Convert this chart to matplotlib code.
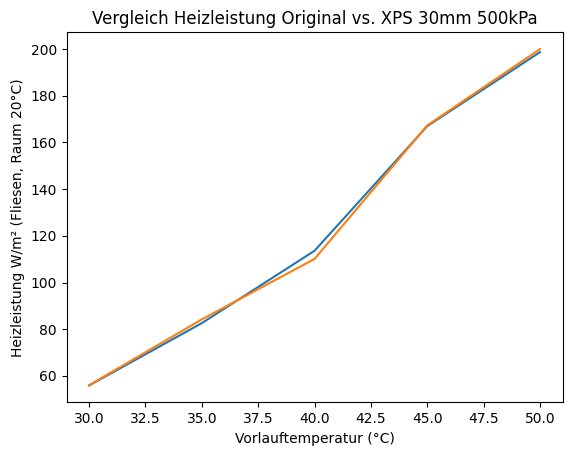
import matplotlib
matplotlib.use("Agg")
import matplotlib.pyplot as plt

temps = [30, 35, 40, 45, 50]
original = [55.9, 82.6, 113.6, 167.0, 198.7]
xps = [56.0, 84.2, 110.1, 167.3, 200.0]

fig = plt.figure(figsize=(5.71, 4.55), dpi=100)
ax = fig.add_axes([66.5 / 571, (455 - 402.3) / 455, 496 / 571, 370 / 455])
ax.plot(temps, original)
ax.plot(temps, xps)
ax.set_title("Vergleich Heizleistung Original vs. XPS 30mm 500kPa")
ax.set_xlabel("Vorlauftemperatur (°C)")
ax.set_ylabel("Heizleistung W/m² (Fliesen, Raum 20°C)")
fig.savefig("out.png", dpi=100)
